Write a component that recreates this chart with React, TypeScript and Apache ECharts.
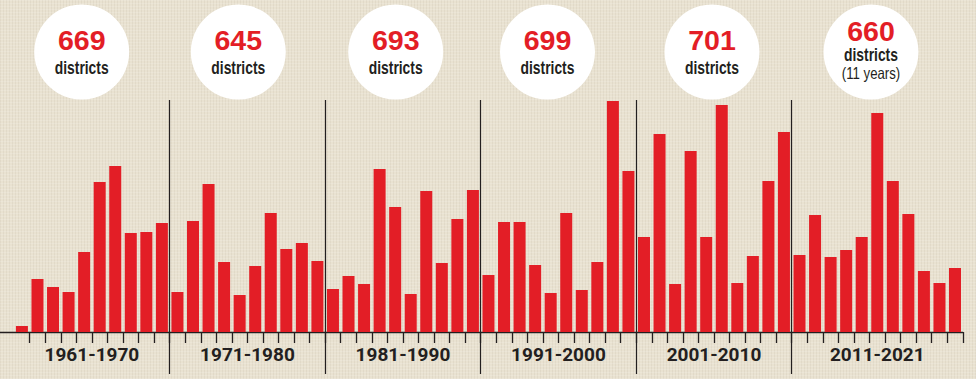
import React, { useEffect, useRef } from "react";
import * as echarts from "echarts";

// ---- data ----
const years: number[] = [
  1961, 1962, 1963, 1964, 1965, 1966, 1967, 1968, 1969, 1970,
  1971, 1972, 1973, 1974, 1975, 1976, 1977, 1978, 1979, 1980,
  1981, 1982, 1983, 1984, 1985, 1986, 1987, 1988, 1989, 1990,
  1991, 1992, 1993, 1994, 1995, 1996, 1997, 1998, 1999, 2000,
  2001, 2002, 2003, 2004, 2005, 2006, 2007, 2008, 2009, 2010,
  2011, 2012, 2013, 2014, 2015, 2016, 2017, 2018, 2019, 2020, 2021,
];
const values: number[] = [
  6, 53, 45, 40, 80, 150, 166, 99, 100, 109,
  40, 111, 148, 70, 37, 66, 119, 83, 89, 71,
  43, 56, 48, 163, 125, 38, 141, 69, 113, 142,
  57, 110, 110, 67, 39, 119, 42, 70, 231, 161,
  95, 198, 48, 181, 95, 227, 49, 76, 151, 200,
  77, 117, 75, 82, 95, 219, 151, 118, 61, 49, 64,
];
const decadeLabels: string[] = ["1961-1970", "1971-1980", "1981-1990", "1991-2000", "2001-2010", "2011-2021"];
const decadeStart: number[] = [1961, 1971, 1981, 1991, 2001, 2011];
const decadeEnd: number[] = [1970, 1980, 1990, 2000, 2010, 2021];
const totals: string[] = ["669", "645", "693", "699", "701", "660"];
const subLabels: string[][] = [
  ["districts"], ["districts"], ["districts"], ["districts"], ["districts"], ["districts", "(11 years)"],
];

const RED = "#e31e26";
const INK = "#231f20";

export default function App() {
  const ref = useRef<HTMLDivElement>(null);
  useEffect(() => {
    document.body.style.margin = "0";
    const chart = echarts.init(ref.current!, null, { renderer: "svg" });

    const boundaries = years.map((y) => y + 0.5);
    const decadeCenters = decadeStart.map((s, i) => (s + decadeEnd[i]) / 2);
    const separators = decadeStart.slice(1).map((s) => [
      { coord: [s - 0.5, 232] },
      { coord: [s - 0.5, -42] },
    ]);

    const circleX = [81.7, 238.3, 395.7, 547.5, 712, 871];
    const graphics: any[] = [];
    totals.forEach((t, i) => {
      const cx = circleX[i];
      const cy = 52;
      const subs = subLabels[i];
      const numY = subs.length === 1 ? 40 : 31;
      const children: any[] = [
        { type: "circle", shape: { cx, cy, r: 47.5 }, style: { fill: "#ffffff" } },
        {
          type: "text",
          x: cx,
          y: numY,
          scaleX: 1.02,
          style: {
            text: t, x: 0, y: 0, align: "center", verticalAlign: "middle", lineHeight: 22,
            fill: RED, fontSize: 28, fontWeight: "bold", fontFamily: "Liberation Sans",
          },
        },
      ];
      subs.forEach((s, k) => {
        const y = subs.length === 1 ? 67.3 : (k === 0 ? 53.8 : 73);
        children.push({
          type: "text",
          x: cx,
          y,
          scaleX: k === 0 ? 0.77 : 0.8,
          style: {
            text: s, x: 0, y: 0, align: "center", verticalAlign: "middle", lineHeight: 16,
            fill: INK, fontSize: k === 0 ? 18 : 16.5, fontWeight: k === 0 ? "bold" : "normal",
            fontFamily: "Liberation Sans",
          },
        });
      });
      graphics.push({ type: "group", children });
    });

    chart.setOption({
      animation: false,
      backgroundColor: "transparent",
      grid: { left: 0, right: 13.2, top: 0, bottom: 0, containLabel: false, outerBoundsMode: "none" },
      xAxis: {
        type: "value",
        position: "bottom",
        offset: -47,
        min: 1959.59,
        max: 2021.5,
        splitLine: { show: false },
        axisLine: { show: true, onZero: false, lineStyle: { color: INK, width: 1.3 } },
        axisTick: { show: true, customValues: boundaries, length: 11, lineStyle: { color: INK, width: 1.3 } },
        axisLabel: {
          show: true,
          customValues: decadeCenters,
          margin: 13,
          formatter: (v: number) => {
            const i = decadeCenters.findIndex((c) => Math.abs(c - v) < 0.01);
            return i >= 0 ? decadeLabels[i] : "";
          },
          color: INK,
          fontSize: 19,
          fontWeight: "bold",
          fontFamily: "Roboto",
        },
      },
      yAxis: {
        type: "value",
        min: -47,
        max: 332,
        show: false,
        splitLine: { show: false },
      },
      series: [
        {
          type: "bar",
          data: years.map((y, i) => [y, values[i]]),
          barWidth: 12,
          itemStyle: { color: RED },
          markLine: {
            silent: true,
            symbol: "none",
            label: { show: false },
            lineStyle: { color: INK, width: 1.2, type: "solid" },
            data: separators,
          },
        },
      ],
      graphic: graphics,
    });
    return () => chart.dispose();
  }, []);

  return (
    <div
      ref={ref}
      style={{
        width: 976,
        height: 379,
        backgroundColor: "#e9e2d1",
        backgroundImage:
          "repeating-linear-gradient(0deg, rgba(255,255,255,0.14) 0px, rgba(255,255,255,0.14) 1px, transparent 1px, transparent 3px), repeating-linear-gradient(90deg, rgba(120,105,80,0.07) 0px, rgba(120,105,80,0.07) 1px, transparent 1px, transparent 3px)",
      }}
    />
  );
}
